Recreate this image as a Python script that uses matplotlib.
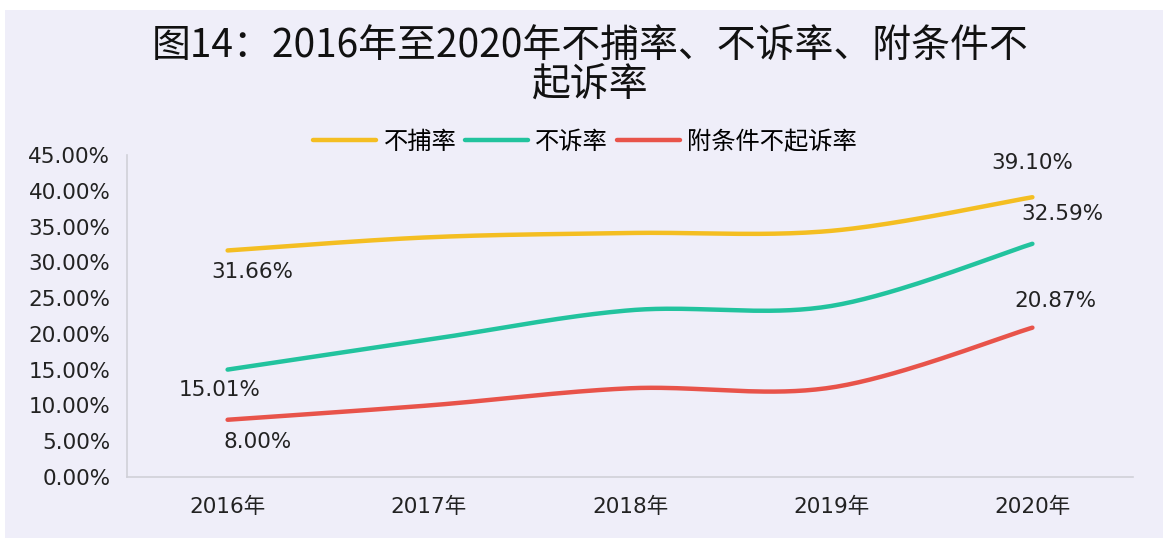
import numpy as np
from matplotlib import pyplot as plt
from matplotlib import patches

years = ["2016年", "2017年", "2018年", "2019年", "2020年"]
buburate = [31.66, 33.5, 34.1, 34.4, 39.10]
busurate = [15.01, 19.2, 23.3, 23.9, 32.59]
fujianrate = [8.00, 10.0, 12.4, 12.5, 20.87]
names = ["不捕率", "不诉率", "附条件不起诉率"]
colors = ["#F4BE22", "#22C39E", "#E8534A"]

plt.rcParams['font.family'] = ['DejaVu Sans', 'Noto Sans CJK SC']


def smooth(x, y, n=40):
    # Bezier segments with Catmull-Rom style control points (like Excel smoothing)
    x = np.asarray(x, float)
    y = np.asarray(y, float)
    px = np.concatenate([[x[0]], x, [x[-1]]])
    py = np.concatenate([[y[0]], y, [y[-1]]])
    xs, ys = [], []
    t = np.linspace(0, 1, n)
    for i in range(len(x) - 1):
        p0 = np.array([px[i + 1], py[i + 1]])
        p3 = np.array([px[i + 2], py[i + 2]])
        p1 = p0 + (np.array([px[i + 2], py[i + 2]]) - np.array([px[i], py[i]])) / 6
        p2 = p3 - (np.array([px[i + 3], py[i + 3]]) - np.array([px[i + 1], py[i + 1]])) / 6
        b = ((1 - t) ** 3)[:, None] * p0 + (3 * (1 - t) ** 2 * t)[:, None] * p1 \
            + (3 * (1 - t) * t ** 2)[:, None] * p2 + (t ** 3)[:, None] * p3
        xs.append(b[:, 0])
        ys.append(b[:, 1])
    return np.concatenate(xs), np.concatenate(ys)


fig = plt.figure(figsize=(11.7, 5.46), dpi=100)
fig.patch.set_facecolor("white")
bg = patches.Rectangle((5 / 1170, 8 / 546), 1158 / 1170, 528 / 546,
                       transform=fig.transFigure, facecolor="#EFEEF9",
                       edgecolor="none", zorder=-10)
fig.patches.append(bg)
ax = fig.add_axes([127 / 1170, 1 - 477 / 546, 1006 / 1170, 322 / 546])
ax.set_facecolor("none")
ax.set_zorder(5)

x = np.arange(len(years))
series = [buburate, busurate, fujianrate]
for vals, name, c in zip(series, names, colors):
    sx, sy = smooth(x, vals)
    ax.plot(sx, sy, color=c, lw=3.2, label=name, solid_capstyle="round")

# data labels at first and last points (pixel offsets)
offsets = [((25, -22), (0, 34)), ((-8, -20), (30, 30)), ((30, -22), (23, 27))]
for vals, (o0, o1) in zip(series, offsets):
    ax.annotate(f"{vals[0]:.2f}%", (x[0], vals[0]), xytext=o0, textcoords="offset pixels",
                ha="center", va="center", fontsize=15.5, color="#222222")
    ax.annotate(f"{vals[-1]:.2f}%", (x[-1], vals[-1]), xytext=o1, textcoords="offset pixels",
                ha="center", va="center", fontsize=15.5, color="#222222")

ax.set_xlim(-0.5, 4.5)
ax.set_ylim(0, 45)
ax.set_yticks(np.arange(0, 46, 5))
ax.set_yticklabels([f"{v:.2f}%" for v in np.arange(0, 46, 5)])
ax.set_xticks(x)
ax.set_xticklabels(years)
ax.tick_params(axis="both", length=0, labelsize=15.5, colors="#222222")
ax.tick_params(axis="y", pad=12)
ax.tick_params(axis="x", pad=14)
for s in ["top", "right"]:
    ax.spines[s].set_visible(False)
for s in ["left", "bottom"]:
    ax.spines[s].set_color("#D0D0D8")
    ax.spines[s].set_linewidth(1.2)

ax.legend(loc="center", bbox_to_anchor=(585 / 1170, 1 - 142 / 546), bbox_transform=fig.transFigure,
          ncol=3, frameon=False, handlelength=2.6, columnspacing=0.35, handletextpad=0.3,
          prop={"family": ["Noto Sans CJK SC"], "size": 17.5})

fig.text(590 / 1170, 1 - 47 / 546, "图14：2016年至2020年不捕率、不诉率、附条件不",
         ha="center", va="center", fontsize=28, family=["Noto Sans CJK SC"],
         fontweight="light", color="#111111")
fig.text(590 / 1170, 1 - 86 / 546, "起诉率",
         ha="center", va="center", fontsize=28, family=["Noto Sans CJK SC"],
         fontweight="light", color="#111111")

plt.savefig("out.png", dpi=100)
